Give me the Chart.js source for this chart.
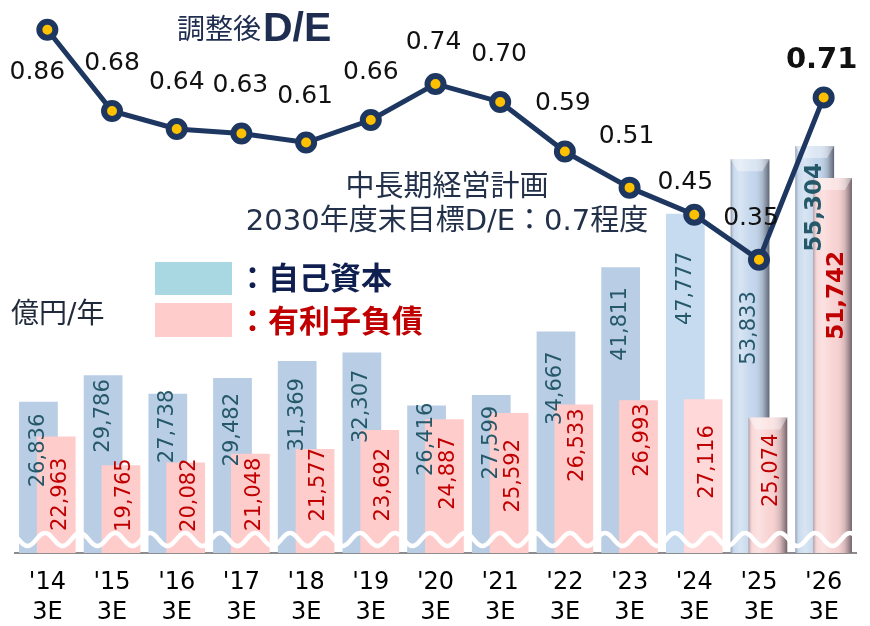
<!DOCTYPE html>
<html>
<head>
<meta charset="utf-8">
<script src="https://cdn.jsdelivr.net/npm/chart.js@4.4.1/dist/chart.umd.min.js"></script>
<style>
  html, body { margin: 0; padding: 0; background: #fff; }
  #wrap { width: 870px; height: 626px; position: relative; }
</style>
</head>
<body>
<div id="wrap"><canvas id="chart"></canvas></div>
<script>
// data (億円, 3月期末)
const years = [["'14", "3E"], ["'15", "3E"], ["'16", "3E"], ["'17", "3E"], ["'18", "3E"], ["'19", "3E"], ["'20", "3E"],
               ["'21", "3E"], ["'22", "3E"], ["'23", "3E"], ["'24", "3E"], ["'25", "3E"], ["'26", "3E"]];
const equity = [26836, 29786, 27738, 29482, 31369, 32307, 26416, 27599, 34667, 41811, 47777, 53833, 55304];
const debt = [22963, 19765, 20082, 21048, 21577, 23692, 24887, 25592, 26533, 26993, 27116, 25074, 51742];
const deRatio = [0.86, 0.68, 0.64, 0.63, 0.61, 0.66, 0.74, 0.70, 0.59, 0.51, 0.45, 0.35, 0.71];

// looks
const JP = '"DejaVu Sans", "Noto Sans CJK JP", sans-serif';
const NAVY = "#1d3761";
const blueCol = ["#b9cde5", "#b9cde5", "#b9cde5", "#b9cde5", "#b9cde5", "#b9cde5", "#b9cde5",
                 "#b9cde5", "#b9cde5", "#b9cde5", "#c6daf0", "#c3d6ec", "#c3d6ec"];
const pinkCol = ["#ffcccc", "#ffcccc", "#ffcccc", "#ffcccc", "#ffcccc", "#ffcccc", "#ffcccc",
                 "#ffcccc", "#ffcccc", "#ffcccc", "#ffd9d9", "#f9d2d2", "#f9d2d2"];
const shaded = [11, 12]; // 3D look bars (plan)

// label placement (px from bar top / point)
const blueLblOff = [12, 4, -4, 15, 17, 17, -3, 11, 20, 20, 38, 132, 17];
const pinkLblOff = [21, -7, -4, 4, -1, 18, 17, 26, 4, 3, 26, 16, 73];
const deDx = [-10, 0, 0, -1, -1, 0, -2, -1, -2, -3, -9, -8, -2];
const deDy = [43, -47, -47, -48, -46, -47, -41, -47, -48, -51, -32, -41, -37];

const BLUE = 1, PINK = 2;
const Y_MIN = 10000;

function shade(chart, di) {
  const ctx = chart.ctx;
  const meta = chart.getDatasetMeta(di);
  shaded.forEach(i => {
    const el = meta.data[i];
    const l = el.x - el.width / 2, r = el.x + el.width / 2, t = el.y, b = el.base;
    const g = ctx.createLinearGradient(l, 0, r, 0);
    g.addColorStop(0, "rgba(70,80,100,0.45)");
    g.addColorStop(0.1, "rgba(255,255,255,0.15)");
    g.addColorStop(0.25, "rgba(255,255,255,0.35)");
    g.addColorStop(0.55, "rgba(255,255,255,0)");
    g.addColorStop(0.82, "rgba(60,60,70,0.2)");
    g.addColorStop(1, "rgba(40,40,50,0.65)");
    ctx.save();
    ctx.fillStyle = g;
    ctx.fillRect(l, t, r - l, b - t);
    // bevel cap
    ctx.beginPath();
    ctx.moveTo(l, t); ctx.lineTo(r, t); ctx.lineTo(r - 7, t + 12); ctx.lineTo(l + 7, t + 12); ctx.closePath();
    ctx.fillStyle = "rgba(255,255,255,0.4)";
    ctx.fill();
    ctx.restore();
  });
}

function drawWave(chart) {
  const { ctx, chartArea: a } = chart;
  const yc = a.bottom - 13.5, amp = 6.5, per = 35;
  ctx.save();
  ctx.strokeStyle = "#fff";
  ctx.lineWidth = 4.5;
  ctx.beginPath();
  for (let x = a.left; x <= a.right; x++) {
    const y = yc - amp * Math.cos(2 * Math.PI * (x - 45) / per);
    if (x === a.left) ctx.moveTo(x, y); else ctx.lineTo(x, y);
  }
  ctx.stroke();
  ctx.restore();
}

function vText(ctx, txt, x, y, font, color) {
  ctx.save();
  ctx.translate(x, y);
  ctx.rotate(-Math.PI / 2);
  ctx.font = font;
  ctx.fillStyle = color;
  ctx.textAlign = "right";
  ctx.textBaseline = "middle";
  ctx.fillText(txt, 0, 0);
  ctx.restore();
}

const fmt = v => v.toLocaleString("en-US");

const layers = {
  id: "layers",
  beforeDatasetDraw(chart, args) {
    // pink is drawn right after blue (so it sits in front)
    if (args.index === PINK) return false;
  },
  afterDatasetDraw(chart, args) {
    if (args.index === BLUE) {
      const ctx = chart.ctx, a = chart.chartArea;
      ctx.save();
      ctx.beginPath();
      ctx.rect(a.left, a.top, a.right - a.left, a.bottom - a.top);
      ctx.clip();
      shade(chart, BLUE);
      chart.getDatasetMeta(PINK).controller.draw();
      shade(chart, PINK);
      drawWave(chart);
      ctx.restore();
      // bar labels
      const mb = chart.getDatasetMeta(BLUE), mp = chart.getDatasetMeta(PINK);
      equity.forEach((v, i) => {
        const el = mb.data[i];
        const last = i === equity.length - 1;
        vText(ctx, fmt(v), el.x, el.y + blueLblOff[i],
          (last ? "bold 23px " : "21px ") + JP, "#25596a");
      });
      debt.forEach((v, i) => {
        const el = mp.data[i];
        const last = i === debt.length - 1;
        vText(ctx, fmt(v), el.x + 4, el.y + pinkLblOff[i],
          (last ? "bold 23px " : "21px ") + JP, "#c00000");
      });
    }
  },
  afterDatasetsDraw(chart) {
    const ctx = chart.ctx;
    const ml = chart.getDatasetMeta(0);
    ctx.save();
    ctx.textAlign = "center";
    ctx.textBaseline = "middle";
    ctx.fillStyle = "#111";
    deRatio.forEach((v, i) => {
      const p = ml.data[i];
      const last = i === deRatio.length - 1;
      ctx.font = (last ? "bold 29px " : "25px ") + JP;
      ctx.fillText(v.toFixed(2), p.x + deDx[i], p.y + deDy[i]);
    });
    ctx.restore();
  },
  afterDraw(chart) {
    const ctx = chart.ctx;
    ctx.save();
    // title
    ctx.fillStyle = "#1f2d50";
    ctx.textBaseline = "alphabetic";
    ctx.textAlign = "left";
    ctx.font = '28px "Noto Sans CJK JP", sans-serif';
    ctx.fillText("調整後", 177, 39);
    ctx.font = 'bold 41px "Liberation Sans", Arial, sans-serif';
    ctx.fillText("D/E", 263, 41);

    // plan note
    ctx.fillStyle = "#22304a";
    ctx.textAlign = "center";
    ctx.textBaseline = "middle";
    ctx.font = "29px " + JP;
    ctx.fillText("中長期経営計画", 447, 188);
    ctx.fillText("2030年度末目標D/E：0.7程度", 447, 222);

    // unit
    ctx.textAlign = "left";
    ctx.fillStyle = "#1f2a3a";
    ctx.font = "28px " + JP;
    ctx.fillText("億円/年", 11, 316);

    // legend
    ctx.fillStyle = "#a9d7e2";
    ctx.fillRect(155, 262, 77, 33);
    ctx.fillStyle = "#ffcccc";
    ctx.fillRect(155, 303, 77, 34);
    ctx.font = 'bold 31px "Noto Sans CJK JP", sans-serif';
    ctx.fillStyle = "#0f1f4f";
    ctx.fillText("：自己資本", 237, 277);
    ctx.fillStyle = "#c00000";
    ctx.fillText("：有利子負債", 237, 320);
    ctx.restore();
  }
};

new Chart(document.getElementById("chart"), {
  data: {
    labels: years,
    datasets: [
      {
        type: "line",
        label: "調整後D/E",
        data: deRatio,
        yAxisID: "y2",
        order: 0,
        borderColor: NAVY,
        borderWidth: 5,
        pointRadius: 8,
        pointBorderWidth: 6,
        pointBackgroundColor: "#ffc000",
        pointBorderColor: NAVY,
        tension: 0
      },
      {
        type: "bar",
        label: "自己資本",
        data: equity,
        yAxisID: "y",
        order: 1,
        base: Y_MIN,
        backgroundColor: blueCol,
        categoryPercentage: 0.552,
        barPercentage: 2.17
      },
      {
        type: "bar",
        label: "有利子負債",
        data: debt,
        yAxisID: "y",
        order: 2,
        base: Y_MIN,
        backgroundColor: pinkCol,
        categoryPercentage: 0.552,
        barPercentage: 2.17
      }
    ]
  },
  options: {
    responsive: true,
    maintainAspectRatio: false,
    animation: false,
    devicePixelRatio: 1,
    layout: { padding: { left: 15, right: 7, top: 12, bottom: -17 } },
    plugins: { legend: { display: false }, tooltip: { enabled: false } },
    scales: {
      x: {
        grid: { display: false, drawTicks: false },
        border: { display: true, color: "#8c8c8c", width: 2 },
        ticks: {
          color: "#000",
          padding: 15,
          maxRotation: 0,
          autoSkip: false,
          font: { family: JP, size: 24, lineHeight: 1.25 }
        }
      },
      y: { display: false, min: Y_MIN, max: 70000 },
      y2: { display: false, min: -0.3, max: 0.895 }
    }
  },
  plugins: [layers]
});
</script>
</body>
</html>
